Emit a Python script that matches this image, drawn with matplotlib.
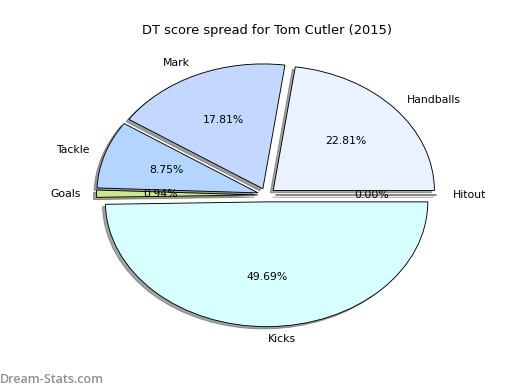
import matplotlib
matplotlib.use("Agg")
import matplotlib.pyplot as plt

labels = ["Handballs", "Mark", "Tackle", "Goals", "Kicks", "Hitout"]
values = [22.81, 17.81, 8.75, 0.94, 49.69, 0.00]
colors = ["#EBF2FF", "#C4D8FF", "#B3D5FF", "#CCE88A", "#D8FFFF", "#FFE0C0"]
explode = [0.055] * len(values)

fig = plt.figure(figsize=(8, 6), dpi=65)
ax = fig.add_axes([0.125, 0.1, 0.775, 0.8])
wedges, texts, autotexts = ax.pie(
    values, labels=labels, colors=colors, explode=explode,
    autopct="%1.2f%%", shadow=True, startangle=0,
    wedgeprops=dict(edgecolor="black", linewidth=1.0),
    textprops=dict(fontsize=12, color="black"),
)
ax.set_aspect("auto")
ax.set_xlim(-1.25, 1.25)
ax.set_ylim(-1.25, 1.25)
ax.set_title("DT score spread for Tom Cutler (2015)", fontsize=14.4)
fig.text(0.0, 0.01, "Dream-Stats.com", fontsize=13.8, color="#8f8f8f",
         family=["Open Sans", "DejaVu Sans"], fontweight="semibold",
         ha="left", va="bottom")
fig.savefig("out.png", dpi=65)
